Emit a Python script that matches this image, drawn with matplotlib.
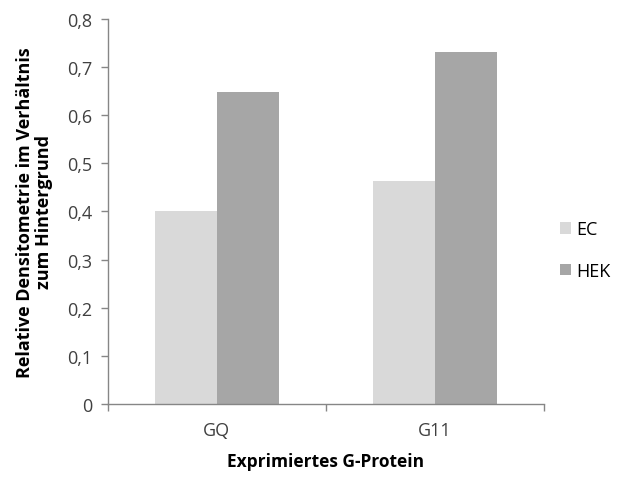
import matplotlib
matplotlib.use("Agg")
import matplotlib.pyplot as plt
import numpy as np

categories = ["GQ", "G11"]
series_names = ["EC", "HEK"]
ec_values = [0.401, 0.464]
hek_values = [0.649, 0.732]
y_ticks = [0, 0.1, 0.2, 0.3, 0.4, 0.5, 0.6, 0.7, 0.8]

plt.rcParams['font.family'] = ['Open Sans', 'DejaVu Sans']
axis_grey = "#868686"

fig = plt.figure(figsize=(6.2, 4.89), dpi=100)
ax = fig.add_axes([0.174, 0.172, 0.703, 0.787])

x = np.arange(len(categories))
width = 0.284
ax.bar(x - width / 2, ec_values, width, color="#d9d9d9", label=series_names[0])
ax.bar(x + width / 2, hek_values, width, color="#a6a6a6", label=series_names[1])

ax.set_xlim(-0.5, len(categories) - 0.5)
ax.set_ylim(0, 0.8)
ax.set_yticks(y_ticks)
ax.set_yticklabels(["0" if v == 0 else f"{v:.1f}".replace(".", ",") for v in y_ticks],
                   fontsize=13, color="#404040")
ax.set_xticks(x)
ax.set_xticklabels(categories, fontsize=13, color="#404040")
ax.tick_params(axis="x", length=0, pad=12)
ax.set_xticks(np.arange(-0.5, len(categories), 1.0), minor=True)
ax.tick_params(axis="x", which="minor", length=5, color=axis_grey, width=1)
ax.tick_params(axis="y", length=5, color=axis_grey, width=1, pad=6)

for side in ["top", "right"]:
    ax.spines[side].set_visible(False)
for side in ["left", "bottom"]:
    ax.spines[side].set_color(axis_grey)
    ax.spines[side].set_linewidth(1)

ax.set_xlabel("Exprimiertes G-Protein", fontsize=12.5, fontweight="bold", labelpad=10)
ax.set_ylabel("Relative Densitometrie im Verhältnis\nzum Hintergrund",
              fontsize=13, fontweight="bold", labelpad=10, linespacing=1.1)

ax.legend(loc="center left", bbox_to_anchor=(1.0, 0.40), frameon=False,
          fontsize=13, handlelength=0.6, handleheight=0.6, labelspacing=1.3,
          handletextpad=0.3)

fig.savefig("out.png", dpi=100)
